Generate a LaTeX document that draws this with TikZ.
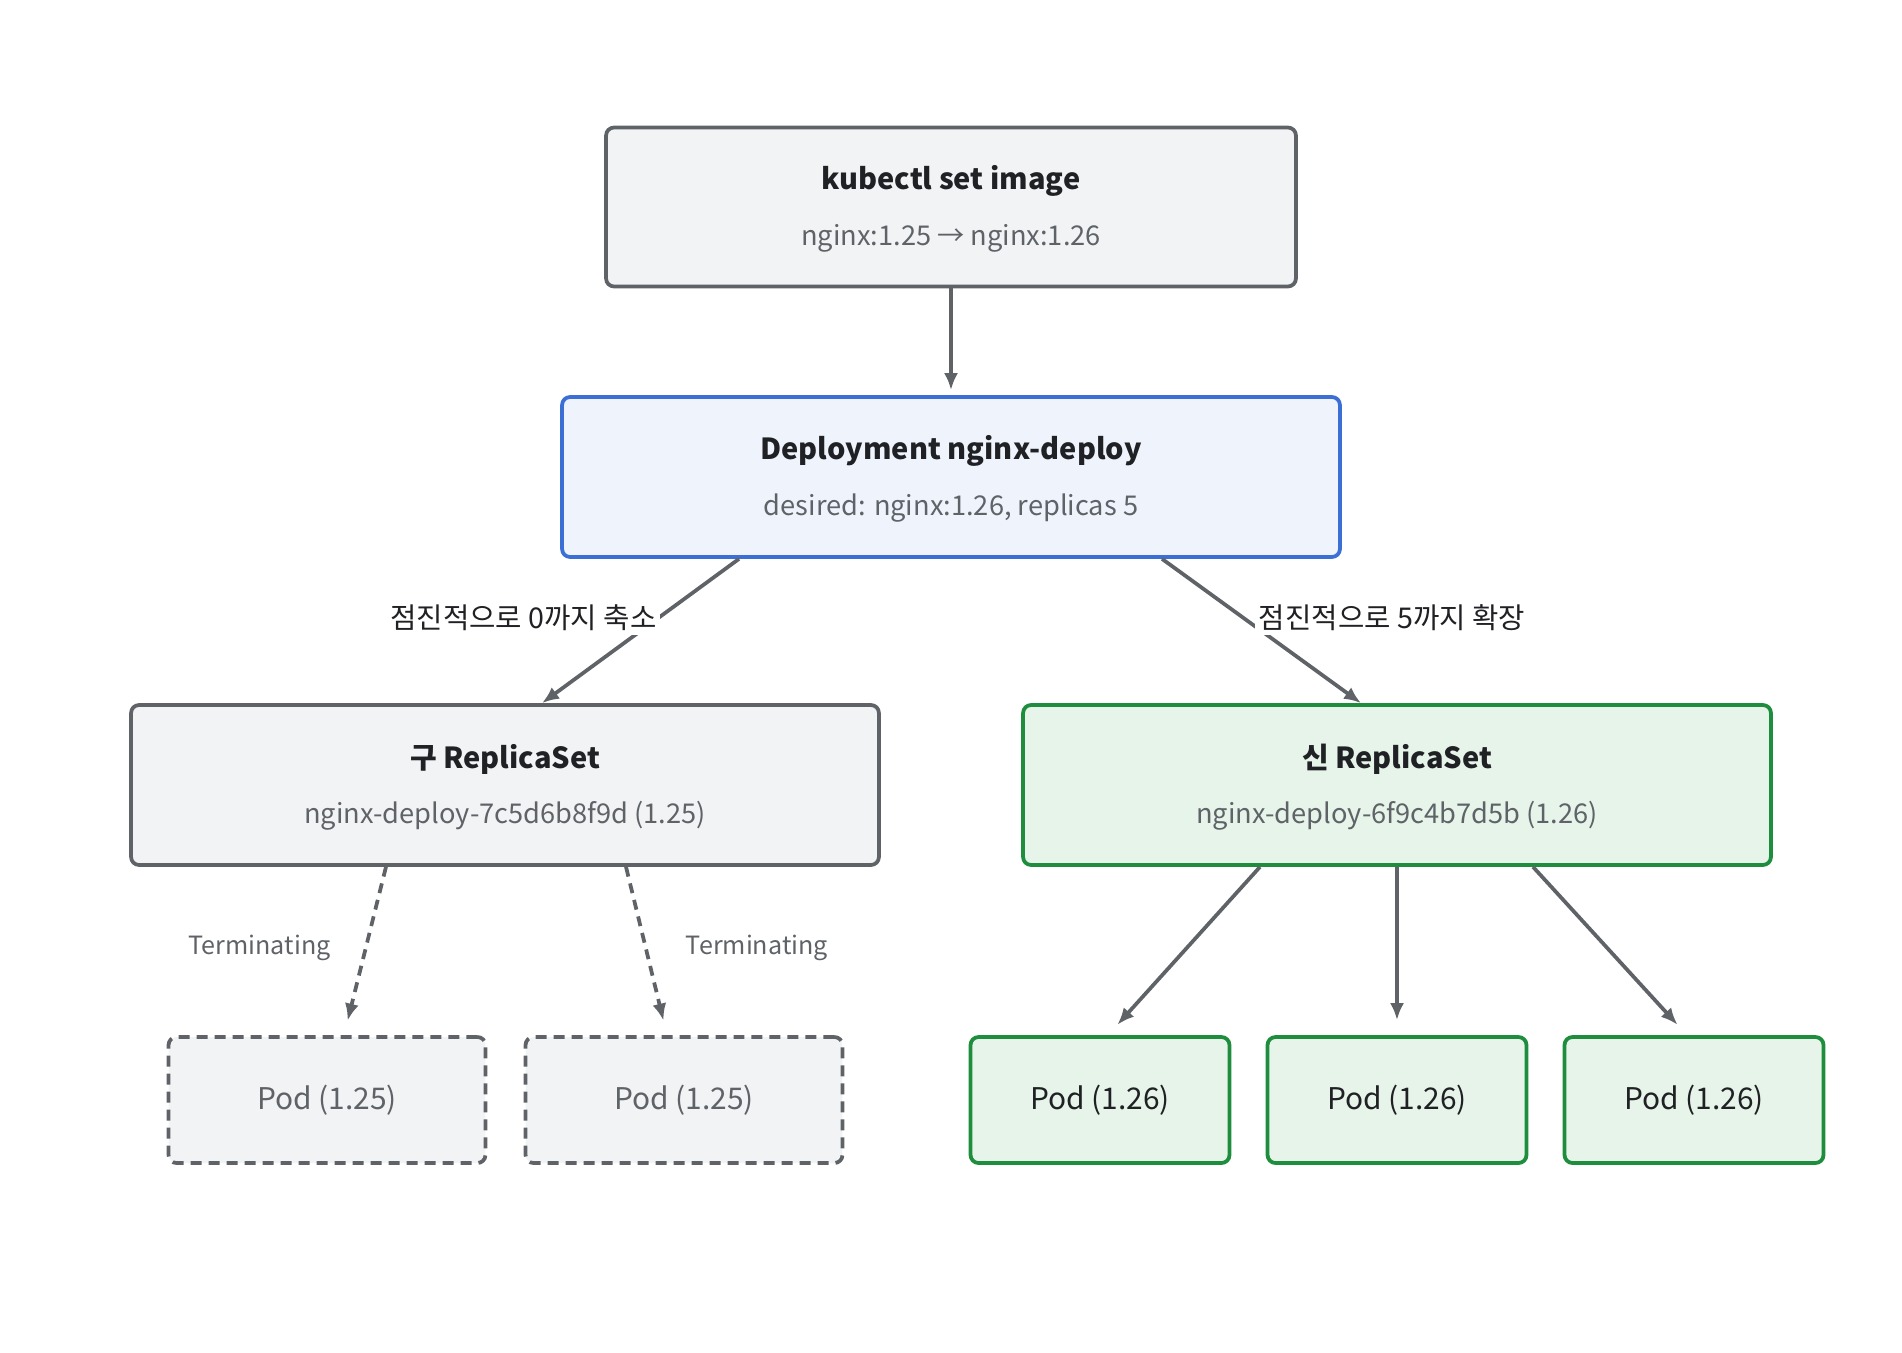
\documentclass[tikz,border=0pt]{standalone}
\usepackage{fontspec}
\setmainfont{Noto Sans CJK KR}
\usetikzlibrary{arrows.meta,calc}

\definecolor{edgegray}{HTML}{5F6368}
\definecolor{boxgray}{HTML}{F1F3F4}
\definecolor{depblue}{HTML}{3B6FD6}
\definecolor{depfill}{HTML}{EEF3FC}
\definecolor{rsgreen}{HTML}{1E8E3E}
\definecolor{rsfill}{HTML}{E6F4EA}
\definecolor{txtdark}{HTML}{202124}

\begin{document}
\begin{tikzpicture}[x=0.02cm,y=-0.02cm,line width=0.075cm,
    >={Latex[length=0.34cm,width=0.28cm]},
    box/.style={draw=edgegray,fill=boxgray,rounded corners=0.16cm,inner sep=0pt},
    depbox/.style={box,draw=depblue,fill=depfill},
    newbox/.style={box,draw=rsgreen,fill=rsfill},
    oldpod/.style={box,dash pattern=on 0.22cm off 0.14cm,minimum width=6.34cm,minimum height=2.52cm,
        font=\fontsize{17pt}{20pt}\selectfont,text=edgegray},
    newpod/.style={newbox,minimum width=5.18cm,minimum height=2.52cm,
        font=\fontsize{17pt}{20pt}\selectfont,text=txtdark},
    ttl/.style={font=\fontsize{16.5pt}{20pt}\selectfont\bfseries,text=txtdark},
    subt/.style={font=\fontsize{15.5pt}{18pt}\selectfont,text=edgegray},
    lbl/.style={font=\fontsize{16.3pt}{19pt}\selectfont,text=txtdark,fill=white,inner sep=2pt},
    term/.style={font=\fontsize{14.3pt}{17pt}\selectfont,text=edgegray},
    link/.style={draw=edgegray,->}]
    \useasboundingbox (0,0) rectangle (1902,1352);

    % 명령
    \node[box,minimum width=13.8cm,minimum height=3.18cm] (kube) at (951,207) {};
    \node[ttl] (kubeT) at ($(kube.center)+(0,-26)$) {kubectl set image};
    \node[subt] (kubeS) at ($(kube.center)+(0,31)$) {nginx:1.25 → nginx:1.26};

    % Deployment
    \node[depbox,minimum width=15.56cm,minimum height=3.2cm] (dep) at (951,477) {};
    \node[ttl] (depT) at ($(dep.center)+(0,-26)$) {Deployment nginx-deploy};
    \node[subt] (depS) at ($(dep.center)+(0,31)$) {desired: nginx:1.26, replicas 5};

    % ReplicaSet 두 개
    \node[box,minimum width=14.96cm,minimum height=3.2cm] (old) at (505,785) {};
    \node[ttl] (oldT) at ($(old.center)+(0,-26)$) {구 ReplicaSet};
    \node[subt] (oldS) at ($(old.center)+(0,31)$) {nginx-deploy-7c5d6b8f9d (1.25)};

    \node[newbox,minimum width=14.96cm,minimum height=3.2cm] (new) at (1397,785) {};
    \node[ttl] (newT) at ($(new.center)+(0,-26)$) {신 ReplicaSet};
    \node[subt] (newS) at ($(new.center)+(0,31)$) {nginx-deploy-6f9c4b7d5b (1.26)};

    % Pod
    \node[oldpod] (op1) at (327,1100) {Pod (1.25)};
    \node[oldpod] (op2) at (684,1100) {Pod (1.25)};
    \node[newpod] (np1) at (1100,1100) {Pod (1.26)};
    \node[newpod] (np2) at (1397,1100) {Pod (1.26)};
    \node[newpod] (np3) at (1694,1100) {Pod (1.26)};

    % 화살표
    \draw[link,shorten >=0.1cm] (kube) -- (dep);
    \draw[link] ($(dep.south)+(-212,0)$) -- ($(old.north)+(37,0)$)
        node[lbl,pos=.41,anchor=east,xshift=2pt] (lblOld) {점진적으로 0까지 축소};
    \draw[link] ($(dep.south)+(211,0)$) -- ($(new.north)+(-36,0)$)
        node[lbl,pos=.41,anchor=west,xshift=0.2cm] (lblNew) {점진적으로 5까지 확장};

    \draw[link,dash pattern=on 0.2cm off 0.14cm,shorten >=0.3cm] ($(old.south)+(-119,0)$) -- ($(op1.north)+(17,0)$)
        node[term,pos=.48,anchor=east,xshift=-0.55cm] (termA) {Terminating};
    \draw[link,dash pattern=on 0.2cm off 0.14cm,shorten >=0.3cm] ($(old.south)+(121,0)$) -- ($(op2.north)+(-17,0)$)
        node[term,pos=.48,anchor=west,xshift=0.65cm] (termB) {Terminating};

    \draw[link,shorten >=0.28cm] ($(new.south)+(-137,0)$) -- ($(np1.north)+(8,0)$);
    \draw[link,shorten >=0.3cm] (new) -- (np2);
    \draw[link,shorten >=0.28cm] ($(new.south)+(136,0)$) -- ($(np3.north)+(-7,0)$);
\end{tikzpicture}
\end{document}
